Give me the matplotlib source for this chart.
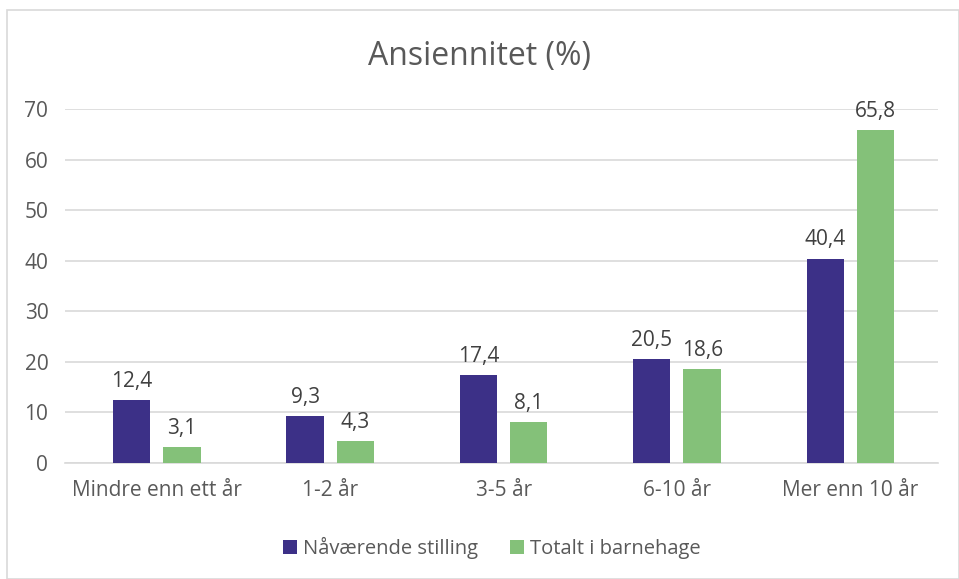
import matplotlib

matplotlib.use("Agg")

import matplotlib.pyplot as plt
import numpy as np
from matplotlib.patches import Rectangle

categories = ["Mindre enn ett år", "1-2 år", "3-5 år", "6-10 år", "Mer enn 10 år"]
navaerende = [12.4, 9.3, 17.4, 20.5, 40.4]
totalt = [3.1, 4.3, 8.1, 18.6, 65.8]
series_names = ["Nåværende stilling", "Totalt i barnehage"]
yticks = [0, 10, 20, 30, 40, 50, 60, 70]

PURPLE = "#3C3087"
GREEN = "#84C179"
TEXT = "#595959"
GRID = "#D9D9D9"

plt.rcParams["font.family"] = ["Open Sans", "DejaVu Sans"]

fig = plt.figure(figsize=(9.59, 5.79), dpi=100)
ax = fig.add_axes([0.0678, 0.2003, 0.9102, 0.6114])

# light frame around the whole chart
fig.patches.append(Rectangle((7 / 959, 0), 1 - 7 / 959, 1 - 10 / 579,
                             transform=fig.transFigure, fill=False,
                             edgecolor=GRID, lw=1.2))

x = np.arange(len(categories))
w = 0.215
off = 0.145
b1 = ax.bar(x - off, navaerende, w, color=PURPLE, label=series_names[0], zorder=3)
b2 = ax.bar(x + off, totalt, w, color=GREEN, label=series_names[1], zorder=3)

for bars, vals in ((b1, navaerende), (b2, totalt)):
    for rect, v in zip(bars, vals):
        ax.annotate(f"{v:.1f}".replace(".", ","),
                    (rect.get_x() + rect.get_width() / 2, v),
                    xytext=(0, 6), textcoords="offset points",
                    ha="center", va="bottom", fontsize=15, color="#404040")

ax.set_xlim(-0.53, 4.505)
ax.set_ylim(0, 70)
ax.set_yticks(yticks)
ax.set_xticks(x)
ax.set_xticklabels(categories)
ax.tick_params(axis="both", length=0, labelsize=15, labelcolor=TEXT)
ax.tick_params(axis="x", pad=12)
ax.tick_params(axis="y", pad=12)
ax.grid(axis="y", color=GRID, lw=1.2, zorder=0)
for s in ("top", "right", "left"):
    ax.spines[s].set_visible(False)
ax.spines["bottom"].set_color(GRID)
ax.spines["bottom"].set_linewidth(1.2)

fig.text(0.5, 1 - 56 / 579, "Ansiennitet (%)", ha="center", va="center",
         fontsize=23, color=TEXT)

fig.legend(handles=[b1, b2], loc="center", bbox_to_anchor=(0.513, 1 - 548 / 579),
           ncol=2, frameon=False, fontsize=14.5, labelcolor=TEXT,
           handlelength=0.7, handleheight=0.7, handletextpad=0.3,
           columnspacing=1.6)

fig.savefig("out.png", dpi=100)
